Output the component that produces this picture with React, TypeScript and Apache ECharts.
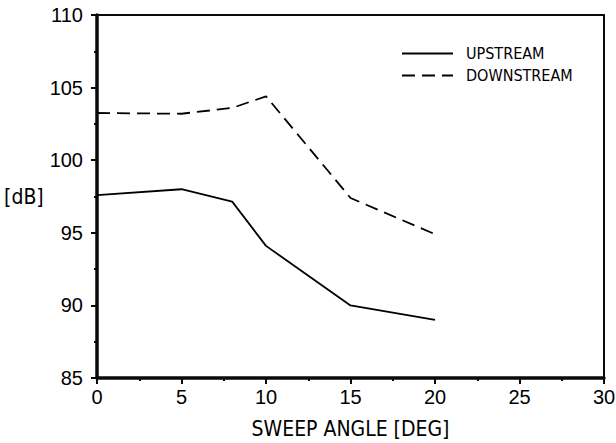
import React, { useEffect, useRef } from "react";
import * as echarts from "echarts";

const sweepAngles = [0, 5, 8, 10, 15, 20];
const upstream = [97.6, 98.0, 97.15, 94.1, 90.0, 89.0];
const downstream = [103.25, 103.2, 103.6, 104.4, 97.4, 94.9];
const seriesNames = ["UPSTREAM", "DOWNSTREAM"];

export default function App() {
  const ref = useRef<HTMLDivElement>(null);
  useEffect(() => {
    if (!ref.current) return;
    const chart = echarts.init(ref.current, null, { renderer: "svg" });
    const axisFont = "Liberation Sans";
    const nameFont = "DejaVu Sans Condensed";
    const ink = "#0a0a0a";
    const borderAxis = {
      type: "value",
      axisLabel: { show: false },
      axisTick: { show: false },
      minorTick: { show: false },
      splitLine: { show: false },
      axisLine: { show: true, onZero: false, lineStyle: { color: ink, width: 2 } },
    };
    chart.setOption({
      animation: false,
      backgroundColor: "#fff",
      grid: {
        left: 97,
        right: 12,
        top: 15,
        bottom: 65,
        show: false,
        outerBoundsMode: "none",
      },
      legend: {
        data: seriesNames,
        orient: "vertical",
        left: 401,
        top: 45.5,
        padding: 0,
        itemWidth: 51,
        itemHeight: 14,
        itemGap: 6,
        itemStyle: { opacity: 0 },
        textStyle: { fontFamily: nameFont, fontSize: 16, color: "#000", padding: [0, 0, 0, 8] },
      },
      xAxis: [
        {
          type: "value",
          position: "bottom",
          min: 0,
          max: 30,
          interval: 5,
          name: "SWEEP ANGLE [DEG]",
          nameLocation: "middle",
          nameGap: 40,
          nameTextStyle: { fontFamily: nameFont, fontSize: 21, color: "#000" },
          axisLine: { show: true, onZero: false, lineStyle: { color: ink, width: 3.5 } },
          axisTick: { show: true, length: 6, lineStyle: { color: ink, width: 2 } },
          minorTick: { show: true, splitNumber: 2, length: 3, lineStyle: { color: ink, width: 2 } },
          axisLabel: { fontFamily: axisFont, fontSize: 20, color: "#000", margin: 9 },
          splitLine: { show: false },
        },
        { ...borderAxis, position: "top", min: 0, max: 30 },
      ],
      yAxis: [
        {
          type: "value",
          position: "left",
          min: 85,
          max: 110,
          interval: 5,
          name: "[dB]",
          nameLocation: "middle",
          nameRotate: 0,
          nameGap: 44,
          nameTextStyle: { fontFamily: nameFont, fontSize: 21, color: "#000" },
          axisLine: { show: true, onZero: false, lineStyle: { color: ink, width: 3.5 } },
          axisTick: { show: true, length: 6, lineStyle: { color: ink, width: 2 } },
          minorTick: { show: true, splitNumber: 2, length: 3, lineStyle: { color: ink, width: 2 } },
          axisLabel: { fontFamily: axisFont, fontSize: 20, color: "#000", margin: 14 },
          splitLine: { show: false },
        },
        { ...borderAxis, position: "right", min: 85, max: 110 },
      ],
      series: [
        {
          name: seriesNames[0],
          type: "line",
          xAxisIndex: 0,
          yAxisIndex: 0,
          data: sweepAngles.map((x, i) => [x, upstream[i]]),
          symbol: "none",
          lineStyle: { color: "#000", width: 1.8, type: "solid" },
          itemStyle: { color: "#000" },
        },
        {
          name: seriesNames[1],
          type: "line",
          xAxisIndex: 0,
          yAxisIndex: 0,
          data: sweepAngles.map((x, i) => [x, downstream[i]]),
          symbol: "none",
          lineStyle: { color: "#000", width: 1.8, type: [13, 7] },
          itemStyle: { color: "#000" },
        },
      ],
    });
    return () => chart.dispose();
  }, []);
  return <div ref={ref} style={{ width: 616, height: 443, position: "absolute", left: 0, top: 0 }} />;
}
